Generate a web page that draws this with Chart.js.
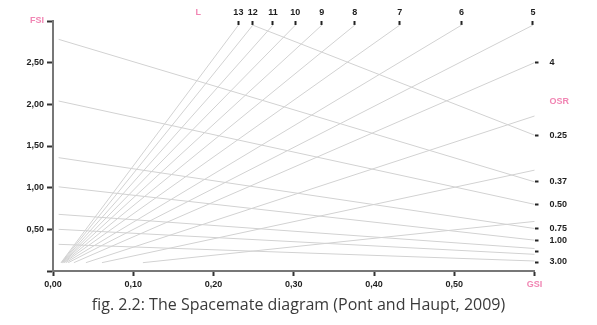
<!DOCTYPE html>
<html>
<head>
<meta charset="utf-8">
<script src="https://cdn.jsdelivr.net/npm/chart.js@4/dist/chart.umd.min.js"></script>
<style>
  html, body { margin: 0; padding: 0; background: #fff; }
</style>
</head>
<body>
<canvas id="spacemate" width="597" height="325"></canvas>
<script>
"use strict";

// building layers (L): lines out of the bottom left corner
const layerLabels   = ['13', '12', '11', '10', '9', '8', '7', '6', '5', '4', '3', '2', '1'];
const layerStartGsi = [0.010, 0.0105, 0.011, 0.0115, 0.012, 0.013, 0.014, 0.016, 0.019, 0.026, 0.041, 0.061, 0.112];
const layerStartFsi = [0.10, 0.10, 0.10, 0.10, 0.10, 0.10, 0.10, 0.10, 0.10, 0.10, 0.10, 0.10, 0.10];
const layerEndGsi   = [0.231, 0.249, 0.274, 0.302, 0.335, 0.376, 0.432, 0.509, 0.598, 0.60, 0.60, 0.60, 0.60];
const layerEndFsi   = [2.95, 2.95, 2.95, 2.95, 2.95, 2.95, 2.95, 2.95, 2.95, 2.50, 1.86, 1.21, 0.595];

// open space ratio (OSR): falling lines
const osrLabels   = ['0.25', '0.37', '0.50', '0.75', '1.00', '1.50', '2.00', '3.00'];
const osrStartGsi = [0.249, 0.007, 0.007, 0.007, 0.007, 0.007, 0.007, 0.007];
const osrStartFsi = [2.95, 2.78, 2.04, 1.36, 1.01, 0.68, 0.50, 0.32];
const osrEndGsi   = [0.60, 0.60, 0.60, 0.60, 0.60, 0.60, 0.60, 0.60];
const osrEndFsi   = [1.63, 1.07, 0.80, 0.51, 0.37, 0.27, 0.20, 0.12];

// axis ticks
const xTicks = [0, 0.1, 0.2, 0.3, 0.4, 0.5, 0.6];
const xTickLabels = ['0,00', '0,10', '0,20', '0,30', '0,40', '0,50', 'GSI'];
const yTicks = [0, 0.5, 1, 1.5, 2, 2.5, 3];
const yTickLabels = ['', '0,50', '1,00', '1,50', '2,00', '2,50', 'FSI'];
const topTicks = [0.181, 0.231, 0.249, 0.274, 0.302, 0.335, 0.376, 0.432, 0.509, 0.598];
const topTickLabels = ['L', '13', '12', '11', '10', '9', '8', '7', '6', '5'];
const rightTicks = [0.108, 0.235, 0.367, 0.507, 0.803, 1.074, 1.626, 2.033, 2.506];
const rightTickLabels = ['3.00', '', '1.00', '0.75', '0.50', '0.37', '0.25', 'OSR', '4'];

const axisNames = ['GSI', 'FSI', 'L', 'OSR'];
const pink = '#f185b3';
const dark = '#1e1e1e';
const lineGrey = '#d2d2d2';
const tickFont = { family: '"Liberation Sans", Arial, sans-serif', size: 9, weight: 'bold' };

function segment(x0, y0, x1, y1) {
    return {
        data: [{ x: x0, y: y0 }, { x: x1, y: y1 }],
        showLine: true,
        borderColor: lineGrey,
        borderWidth: 1,
        pointRadius: 0,
        clip: false
    };
}

const datasets = [];
layerLabels.forEach((l, i) => {
    datasets.push(Object.assign(segment(layerStartGsi[i], layerStartFsi[i], layerEndGsi[i], layerEndFsi[i]), { label: 'L ' + l }));
});
osrLabels.forEach((o, i) => {
    datasets.push(Object.assign(segment(osrStartGsi[i], osrStartFsi[i], osrEndGsi[i], osrEndFsi[i]), { label: 'OSR ' + o }));
});

function fixedTicks(values) {
    return function (scale) {
        scale.ticks = values.map(v => ({ value: v }));
    };
}

function labelColor(labels) {
    return ctx => axisNames.includes(labels[ctx.index]) ? pink : dark;
}

new Chart(document.getElementById('spacemate'), {
    type: 'scatter',
    data: { datasets: datasets },
    options: {
        responsive: false,
        animation: false,
        events: [],
        layout: { padding: 0 },
        plugins: {
            legend: { display: false },
            tooltip: { enabled: false },
            title: {
                display: true,
                position: 'bottom',
                text: 'fig. 2.2: The Spacemate diagram (Pont and Haupt, 2009)',
                color: '#3a3a3a',
                font: { family: '"Open Sans", sans-serif', size: 16, weight: 'normal' },
                padding: { top: 3, bottom: 10 }
            }
        },
        scales: {
            x: {
                type: 'linear',
                position: 'bottom',
                min: 0,
                max: 0.6,
                afterBuildTicks: fixedTicks(xTicks),
                afterFit: s => { s.height = 21.8; },
                border: { display: true, color: '#777', width: 2 },
                grid: { drawOnChartArea: false, tickLength: 5, tickWidth: 2, tickColor: '#333' },
                ticks: {
                    autoSkip: false,
                    maxRotation: 0,
                    padding: 3,
                    font: tickFont,
                    color: labelColor(xTickLabels),
                    callback: (v, i) => xTickLabels[i]
                }
            },
            y: {
                type: 'linear',
                position: 'left',
                min: 0,
                max: 3,
                afterBuildTicks: fixedTicks(yTicks),
                afterFit: s => { s.width = 53; },
                border: { display: true, color: '#777', width: 2 },
                grid: { drawOnChartArea: false, tickLength: 6, tickWidth: 2, tickColor: '#333' },
                ticks: {
                    autoSkip: false,
                    padding: 3,
                    font: tickFont,
                    color: labelColor(yTickLabels),
                    callback: (v, i) => yTickLabels[i]
                }
            },
            xTop: {
                type: 'linear',
                position: 'top',
                min: 0,
                max: 0.6,
                afterBuildTicks: fixedTicks(topTicks),
                afterFit: s => { s.height = 21; },
                border: { display: false },
                grid: {
                    drawOnChartArea: false,
                    tickLength: -4,
                    tickWidth: 2,
                    tickColor: ctx => topTickLabels[ctx.index] === 'L' ? 'rgba(0,0,0,0)' : '#222'
                },
                ticks: {
                    autoSkip: false,
                    maxRotation: 0,
                    padding: 7,
                    font: tickFont,
                    color: labelColor(topTickLabels),
                    callback: (v, i) => topTickLabels[i]
                }
            },
            yRight: {
                type: 'linear',
                position: 'right',
                min: 0,
                max: 3,
                afterBuildTicks: fixedTicks(rightTicks),
                afterFit: s => { s.width = 62.5; },
                border: { display: false },
                grid: {
                    drawOnChartArea: false,
                    tickLength: 4,
                    tickWidth: 2,
                    tickColor: ctx => rightTickLabels[ctx.index] === 'OSR' ? 'rgba(0,0,0,0)' : '#222'
                },
                ticks: {
                    autoSkip: false,
                    padding: 11,
                    font: tickFont,
                    color: labelColor(rightTickLabels),
                    callback: (v, i) => rightTickLabels[i]
                }
            }
        }
    }
});
</script>
</body>
</html>
